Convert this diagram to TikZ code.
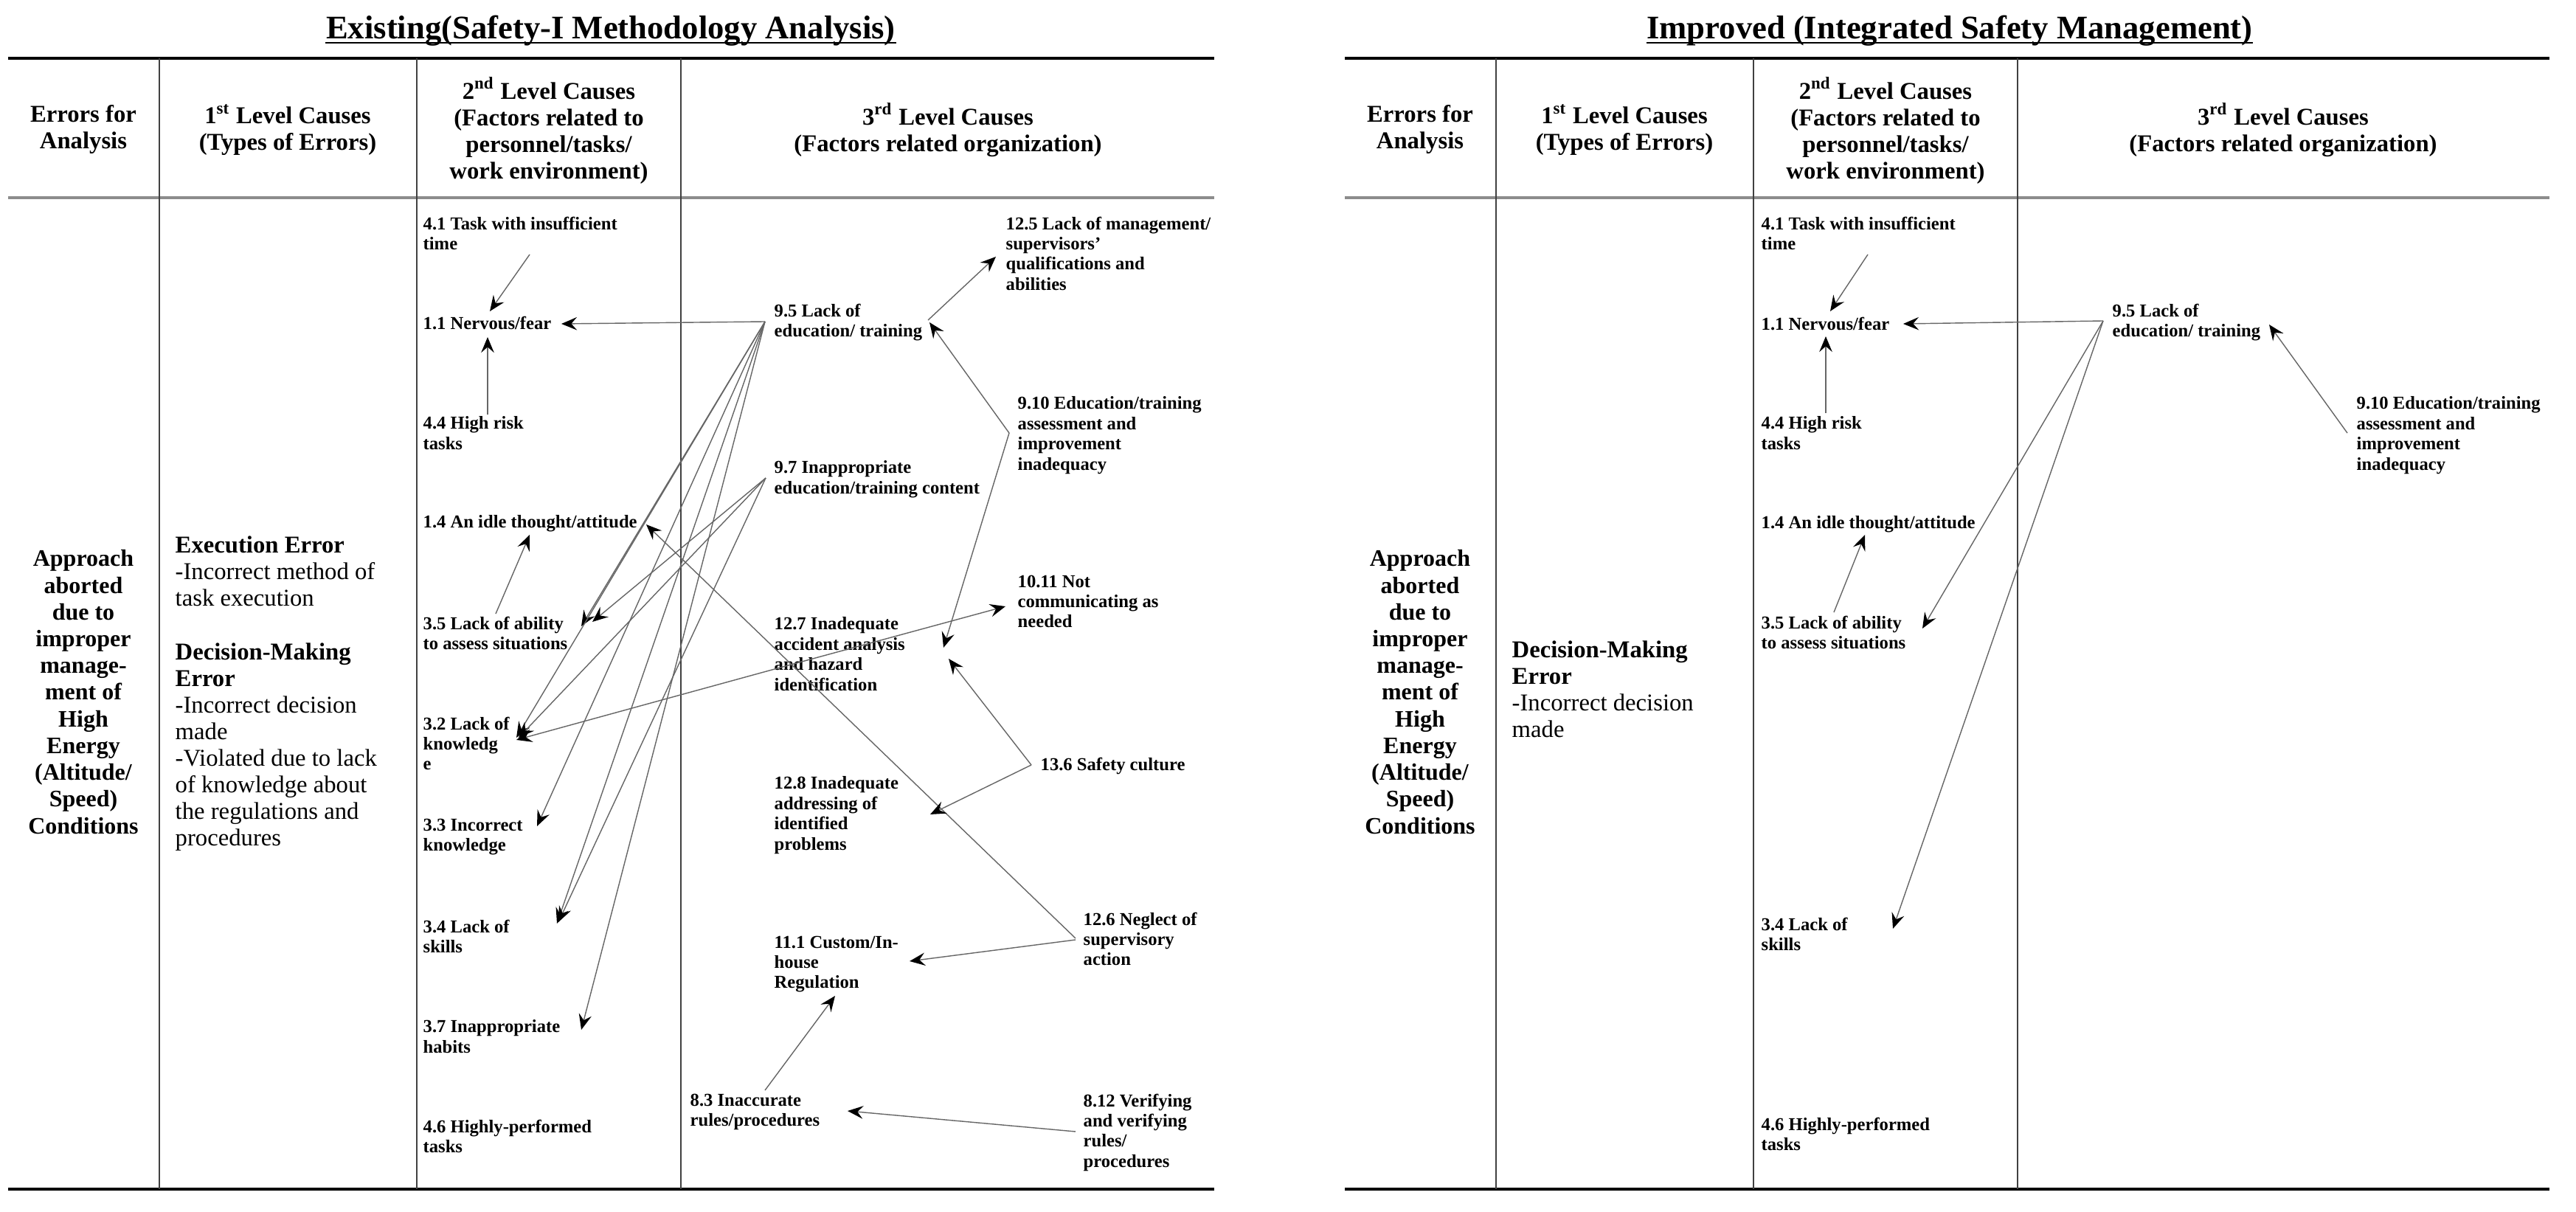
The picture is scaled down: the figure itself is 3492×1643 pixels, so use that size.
\documentclass[tikz,border=0pt]{standalone}
\usepackage{fontspec}
\setmainfont{Liberation Serif}
\usetikzlibrary{arrows.meta,positioning,calc}

\begin{document}
\begin{tikzpicture}[
    x=0.01cm, y=-0.01cm,
    heading/.style={anchor=base, inner sep=0pt, font=\fontsize{12.7}{14}\selectfont\bfseries},
    headtext/.style={anchor=center, inner sep=0pt, align=center,
                     font=\fontsize{9.3}{10.25}\selectfont\bfseries},
    errtext/.style={anchor=center, inner sep=0pt, align=center,
                    font=\fontsize{9.1}{10.3}\selectfont\bfseries},
    typetext/.style={anchor=north west, inner sep=0pt, align=left,
                     font=\fontsize{9.3}{10.25}\selectfont},
    cause/.style={anchor=north west, inner sep=0pt, align=left,
                  font=\fontsize{7}{7.8}\selectfont\bfseries},
    toprule/.style={line width=1.3pt, black},
    midrule/.style={line width=1pt, black!45},
    botrule/.style={line width=1pt, black},
    colrule/.style={line width=0.5pt, black!75},
    arrow/.style={-{Stealth[length=6pt, width=5pt, inset=2.2pt, black]},
                  draw=black!60, line width=0.4pt}
]
    \useasboundingbox (0,0) rectangle (3492,1643);

    % ---------- existing (left) table ----------
    \node[heading] (tl) at (828,53) {Existing(Safety-I Methodology Analysis)};
    \draw[line width=0.6pt] ([yshift=-1.5pt]tl.base west) -- ([yshift=-1.5pt]tl.base east);

    \draw[toprule] (11,79) -- (1646,79);
    \draw[midrule] (11,268) -- (1646,268);
    \draw[botrule] (11,1612) -- (1646,1612);
    \foreach \x in {216,565,923}
        \draw[colrule] (\x,79) -- (\x,1612);

    \node[headtext] (lh1) at (113,176) {Errors for\\Analysis};
    \node[headtext] (lh2) at (390,176) {1\textsuperscript{st} Level Causes\\(Types of Errors)};
    \node[headtext] (lh3) at (744,177) {2\textsuperscript{nd} Level Causes\\(Factors related to\\personnel/tasks/\\work environment)};
    \node[headtext] (lh4) at (1285,176) {3\textsuperscript{rd} Level Causes\\(Factors related organization)};

    \node[errtext] (lerr) at (113,938) {Approach\\aborted\\due to\\improper\\manage-\\ment of\\High\\Energy\\(Altitude/\\Speed)\\Conditions};
    \node[typetext] (ltype) at (237,726) {\textbf{Execution Error}\\-Incorrect method of\\task execution\\[10.4pt]\textbf{Decision-Making}\\\textbf{Error}\\-Incorrect decision\\made\\-Violated due to lack\\of knowledge about\\the regulations and\\procedures};

    % 2nd level causes
    \node[cause] (l41) at (573,293) {4.1 Task with insufficient\\time};
    \node[cause] (l11) at (573,428) {1.1 Nervous/fear};
    \node[cause] (l44) at (573,564) {4.4 High risk\\tasks};
    \node[cause] (l14) at (573,698) {1.4 An idle thought/attitude};
    \node[cause] (l35) at (573,835) {3.5 Lack of ability\\to assess situations};
    \node[cause] (l32) at (573,971) {3.2 Lack of\\knowledg\\e};
    \node[cause] (l33) at (573,1109) {3.3 Incorrect\\knowledge};
    \node[cause] (l34) at (573,1246) {3.4 Lack of\\skills};
    \node[cause] (l37) at (573,1382) {3.7 Inappropriate\\habits};
    \node[cause] (l46) at (573,1517) {4.6 Highly-performed\\tasks};

    % 3rd level causes
    \node[cause] (m95) at (1049,411) {9.5 Lack of\\education/ training};
    \node[cause] (m97) at (1049,624) {9.7 Inappropriate\\education/training content};
    \node[cause] (m125) at (1363,293) {12.5 Lack of management/\\supervisors'\\qualifications and\\abilities};
    \node[cause] (m910) at (1379,537) {9.10 Education/training\\assessment and\\improvement\\inadequacy};
    \node[cause] (m1011) at (1379,779) {10.11 Not\\communicating as\\needed};
    \node[cause] (m127) at (1049,836) {12.7 Inadequate\\accident analysis\\and hazard\\identification};
    \node[cause] (m136) at (1410,1026) {13.6 Safety culture};
    \node[cause] (m128) at (1049,1052) {12.8 Inadequate\\addressing of\\identified\\problems};
    \node[cause] (m126) at (1468,1236) {12.6 Neglect of\\supervisory\\action};
    \node[cause] (m111) at (1049,1268) {11.1 Custom/In-\\house\\Regulation};
    \node[cause] (m83) at (935,1482) {8.3 Inaccurate\\rules/procedures};
    \node[cause] (m812) at (1468,1482) {8.12 Verifying\\and verifying\\rules/\\procedures};

    \draw[arrow] ([shift={(145,52)}]l41.north west) -- ([shift={(91,-6)}]l11.north west);
    \draw[arrow] ([shift={(88,-2)}]l44.north west) -- ([shift={(88,29)}]l11.north west);
    \draw[arrow] ([shift={(-12,25)}]m95.north west) -- ([shift={(188,11)}]l11.north west);
    \draw[arrow] ([shift={(99,-3)}]l35.north west) -- ([shift={(145,27)}]l14.north west);
    \draw[arrow] ([shift={(-10,36)}]m126.north west) -- ([shift={(303,13)}]l14.north west);
    \foreach \n/\dx/\dy in {l35/215/14, l32/127/29, l33/155/11, l34/182/6, l37/215/14}
        \draw[arrow] ([shift={(-12,25)}]m95.north west) -- ([shift={(\dx,\dy)}]\n.north west);
    \foreach \n/\dx/\dy in {l35/230/8, l32/130/29, l34/184/4}
        \draw[arrow] ([shift={(-11,24)}]m97.north west) -- ([shift={(\dx,\dy)}]\n.north west);
    \draw[arrow] ([shift={(209,23)}]m95.north west) -- ([shift={(-13,55)}]m125.north west);
    \draw[arrow] ([shift={(-11,50)}]m910.north west) -- ([shift={(211,26)}]m95.north west);
    \draw[arrow] ([shift={(-11,50)}]m910.north west) -- ([shift={(230,42)}]m127.north west);
    \draw[arrow] ([shift={(-12,11)}]m136.north west) -- ([shift={(237,57)}]m127.north west);
    \draw[arrow] ([shift={(-12,11)}]m136.north west) -- ([shift={(212,52)}]m128.north west);
    \draw[arrow] ([shift={(-10,38)}]m126.north west) -- ([shift={(184,35)}]m111.north west);
    \draw[arrow] ([shift={(102,-4)}]m83.north west) -- ([shift={(83,82)}]m111.north west);
    \draw[arrow] ([shift={(-10,52)}]m812.north west) -- ([shift={(214,24)}]m83.north west);
    \draw[arrow] ([shift={(12,68)}]m127.north west) -- ([shift={(-16,43)}]m1011.north west);
    \draw[arrow] ([shift={(12,68)}]m127.north west) -- ([shift={(127,32)}]l32.north west);

    % ---------- improved (right) table ----------
    \node[heading] (tr) at (2643,53) {Improved (Integrated Safety Management)};
    \draw[line width=0.6pt] ([yshift=-1.5pt]tr.base west) -- ([yshift=-1.5pt]tr.base east);

    \draw[toprule] (1823,79) -- (3456,79);
    \draw[midrule] (1823,268) -- (3456,268);
    \draw[botrule] (1823,1612) -- (3456,1612);
    \foreach \x in {2028,2377,2735}
        \draw[colrule] (\x,79) -- (\x,1612);

    \node[headtext] (rh1) at (1925,176) {Errors for\\Analysis};
    \node[headtext] (rh2) at (2202,176) {1\textsuperscript{st} Level Causes\\(Types of Errors)};
    \node[headtext] (rh3) at (2556,177) {2\textsuperscript{nd} Level Causes\\(Factors related to\\personnel/tasks/\\work environment)};
    \node[headtext] (rh4) at (3095,176) {3\textsuperscript{rd} Level Causes\\(Factors related organization)};

    \node[errtext] (rerr) at (1925,938) {Approach\\aborted\\due to\\improper\\manage-\\ment of\\High\\Energy\\(Altitude/\\Speed)\\Conditions};
    \node[typetext] (rtype) at (2049,868) {\textbf{Decision-Making}\\\textbf{Error}\\-Incorrect decision\\made};

    \node[cause] (r41) at (2387,293) {4.1 Task with insufficient\\time};
    \node[cause] (r11) at (2387,429) {1.1 Nervous/fear};
    \node[cause] (r44) at (2387,564) {4.4 High risk\\tasks};
    \node[cause] (r14) at (2387,699) {1.4 An idle thought/attitude};
    \node[cause] (r35) at (2387,834) {3.5 Lack of ability\\to assess situations};
    \node[cause] (r34) at (2387,1243) {3.4 Lack of\\skills};
    \node[cause] (r46) at (2387,1514) {4.6 Highly-performed\\tasks};

    \node[cause] (s95) at (2863,411) {9.5 Lack of\\education/ training};
    \node[cause] (s910) at (3194,537) {9.10 Education/training\\assessment and\\improvement\\inadequacy};

    \draw[arrow] ([shift={(145,52)}]r41.north west) -- ([shift={(94,-7)}]r11.north west);
    \draw[arrow] ([shift={(88,-4)}]r44.north west) -- ([shift={(88,27)}]r11.north west);
    \draw[arrow] ([shift={(-12,24)}]s95.north west) -- ([shift={(193,10)}]r11.north west);
    \draw[arrow] ([shift={(-12,50)}]s910.north west) -- ([shift={(213,29)}]s95.north west);
    \draw[arrow] ([shift={(99,-4)}]r35.north west) -- ([shift={(141,26)}]r14.north west);
    \draw[arrow] ([shift={(-12,24)}]s95.north west) -- ([shift={(219,18)}]r35.north west);
    \draw[arrow] ([shift={(-12,24)}]s95.north west) -- ([shift={(179,16)}]r34.north west);
\end{tikzpicture}
\end{document}
